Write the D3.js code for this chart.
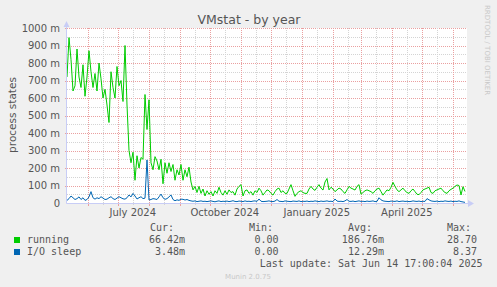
<!DOCTYPE html>
<html>
<head>
<meta charset="utf-8">
<script src="https://cdn.jsdelivr.net/npm/d3@7"></script>
<style>
  body { margin: 0; background: #f0f0f0; }
  svg { display: block; }
</style>
</head>
<body>
<svg id="chart"></svg>
<script>
var vWidth = 497,
  vHeight = 287,
  plotLeft = 67,
  plotRight = 467,
  plotTop = 28,
  plotBottom = 203;

// daily-ish samples, one every 2 days, values in milli
var running = [
  720, 945, 820, 640, 670, 880, 720, 660, 790, 610,
  720, 870, 750, 660, 740, 640, 800, 710, 600, 650,
  560, 460, 750, 660, 600, 780, 670, 700, 580, 900,
  560, 300, 230, 290, 130, 270, 200, 260, 250, 620,
  420, 590, 230, 190, 265, 240, 190, 250, 110, 230,
  170, 230, 180, 220, 130, 190, 160, 220, 130, 190,
  150, 205, 120, 75, 95, 60, 95, 55, 80, 40,
  70, 50, 65, 40, 70, 55, 90, 60, 45, 70,
  50, 75, 60, 65, 45, 80, 95, 105, 40, 70,
  75, 55, 65, 45, 70, 60, 85, 70, 45, 60,
  75, 70, 55, 45, 65, 80, 85, 60, 70, 55,
  55, 80, 105, 70, 38, 55, 65, 70, 60, 55,
  55, 80, 95, 80, 72, 90, 105, 85, 74, 120,
  140, 75, 90, 80, 65, 75, 85, 80, 65, 55,
  75, 95, 85, 80, 74, 95, 105, 50, 60, 70,
  75, 70, 65, 55, 70, 80, 85, 65, 45, 60,
  75, 70, 90, 118, 95, 75, 65, 75, 85, 70,
  60, 55, 70, 80, 65, 50, 48, 60, 75, 80,
  85, 90, 60, 55, 70, 75, 80, 85, 70, 60,
  55, 70, 78, 85, 95, 103, 100, 46, 93, 66
];
var ioSleep = [
  15, 25, 40, 30, 20, 25, 35, 20, 30, 15,
  20, 35, 65, 30, 22, 30, 25, 36, 28, 20,
  22, 30, 36, 25, 20, 28, 36, 30, 24, 22,
  30, 46, 35, 55, 40, 23, 30, 36, 25, 28,
  246, 17, 20, 25, 23, 20, 35, 51, 30, 21,
  25, 35, 46, 20, 13, 18, 15, 22, 21, 17,
  20, 15, 12, 10, 12, 8, 10, 12, 9, 10,
  8, 10, 12, 9, 7, 10, 12, 8, 10, 9,
  11, 8, 10, 13, 9, 8, 11, 10, 8, 12,
  9, 10, 8, 11, 12, 9, 23, 10, 8, 9,
  10, 12, 9, 8, 11, 20, 10, 9, 8, 12,
  10, 9, 8, 11, 10, 9, 12, 8, 10, 9,
  11, 8, 10, 9, 12, 10, 8, 11, 9, 10,
  12, 9, 10, 8, 23, 11, 9, 10, 8, 12,
  20, 10, 9, 11, 8, 10, 12, 9, 10, 8,
  11, 9, 10, 12, 8, 9, 30, 18, 12, 10,
  9, 8, 11, 10, 9, 12, 8, 10, 11, 9,
  10, 8, 9, 12, 10, 9, 11, 8, 10, 9,
  25, 18, 12, 10, 9, 11, 8, 10, 9, 12,
  10, 9, 11, 8, 10, 9, 12, 8, 6, 3.5
];

var seriesNames = ['running', 'I/O sleep'],
  seriesColors = ['#00cc00', '#0066b3'],
  curVals = ['66.42m', '3.48m'],
  minVals = ['0.00', '0.00'],
  avgVals = ['186.76m', '12.29m'],
  maxVals = ['28.70', '8.37'];

var yTicks = [0, 100, 200, 300, 400, 500, 600, 700, 800, 900, 1000],
  yTickLabels = ['0', '100 m', '200 m', '300 m', '400 m', '500 m', '600 m', '700 m', '800 m', '900 m', '1000 m'];

var xLabelDates = [Date.UTC(2024, 6, 1), Date.UTC(2024, 9, 1), Date.UTC(2025, 0, 1), Date.UTC(2025, 3, 1)],
  xLabels = ['July 2024', 'October 2024', 'January 2025', 'April 2025'];

var endTime = new Date(Date.UTC(2025, 5, 14, 17, 0, 4)),
  startTime = new Date(endTime.getTime() - 400 * 864e5);

var x = d3.scaleUtc().domain([startTime, endTime]).range([66.5, 466.5]);
var y = d3.scaleLinear().domain([0, 1000]).range([plotBottom, plotTop]);

function px(v) { return Math.round(v) + 0.5; }

var svg = d3.select('#chart')
  .attr('width', vWidth)
  .attr('height', vHeight);

svg.append('rect')
  .attr('width', vWidth).attr('height', vHeight)
  .attr('fill', '#f0f0f0');

// plot area
svg.append('rect')
  .attr('x', plotLeft).attr('y', plotTop)
  .attr('width', plotRight - plotLeft).attr('height', plotBottom - plotTop)
  .attr('fill', '#ffffff');

var grid = svg.append('g').attr('shape-rendering', 'crispEdges');

// horizontal minor + major lines
d3.range(50, 1001, 100).forEach(function (v) {
  grid.append('line')
    .attr('x1', plotLeft).attr('x2', plotRight)
    .attr('y1', px(y(v))).attr('y2', px(y(v)))
    .attr('stroke', '#d4d4d4').attr('stroke-dasharray', '1,1');
});
yTicks.forEach(function (v) {
  if (v === 0) return;
  grid.append('line')
    .attr('x1', plotLeft).attr('x2', plotRight)
    .attr('y1', px(y(v))).attr('y2', px(y(v)))
    .attr('stroke', '#eaa0a0').attr('stroke-dasharray', '1,1');
  grid.append('line')
    .attr('x1', plotLeft - 2).attr('x2', plotLeft)
    .attr('y1', px(y(v))).attr('y2', px(y(v)))
    .attr('stroke', '#eaa0a0');
});

// vertical: month starts (major) and mid-month (minor)
var months = d3.utcMonth.range(startTime, endTime);
months.forEach(function (m) {
  var mid = d3.utcDay.offset(m, 15);
  if (mid < endTime) {
    grid.append('line')
      .attr('x1', px(x(mid))).attr('x2', px(x(mid)))
      .attr('y1', plotTop).attr('y2', plotBottom + 2)
      .attr('stroke', '#d4d4d4').attr('stroke-dasharray', '1,1');
  }
});
d3.utcMonth.range(d3.utcMonth.ceil(startTime), endTime).forEach(function (m) {
  grid.append('line')
    .attr('x1', px(x(m))).attr('x2', px(x(m)))
    .attr('y1', plotTop).attr('y2', plotBottom)
    .attr('stroke', '#eaa0a0').attr('stroke-dasharray', '1,1');
  grid.append('line')
    .attr('x1', px(x(m))).attr('x2', px(x(m)))
    .attr('y1', plotBottom).attr('y2', plotBottom + 3)
    .attr('stroke', '#eaa0a0');
});

// series lines
function dateAt(i) { return d3.utcHour.offset(startTime, 12 + 48 * i); }

var line = d3.line()
  .x(function (d, i) { return x(dateAt(i)); })
  .y(function (d) { return y(d); });

[running, ioSleep].forEach(function (s, k) {
  svg.append('path')
    .datum(s)
    .attr('d', line)
    .attr('fill', 'none')
    .attr('stroke', seriesColors[k])
    .attr('stroke-width', 1);
});

// axes with arrows
var axisColor = '#c8cdf6';
svg.append('line')
  .attr('x1', plotLeft - 0.5).attr('x2', plotLeft - 0.5)
  .attr('y1', plotBottom + 0.5).attr('y2', plotTop - 4)
  .attr('stroke', axisColor);
svg.append('line')
  .attr('x1', plotLeft - 0.5).attr('x2', plotRight + 2)
  .attr('y1', plotBottom + 0.5).attr('y2', plotBottom + 0.5)
  .attr('stroke', axisColor);
svg.append('path')
  .attr('d', 'M63.5,27 L66.5,21 L69.5,27 Z')
  .attr('fill', axisColor);
svg.append('path')
  .attr('d', 'M468,200 L474,203.5 L468,207 Z')
  .attr('fill', axisColor);

// y tick labels
svg.append('g').selectAll('text')
  .data(yTicks)
  .enter().append('text')
  .attr('x', 60)
  .attr('y', function (d) { return y(d) + 3.6; })
  .attr('text-anchor', 'end')
  .attr('font-family', 'DejaVu Sans')
  .attr('font-size', '10px')
  .attr('fill', '#555')
  .text(function (d, i) { return yTickLabels[i]; });

// x labels, centred half a month after the month start
svg.append('g').selectAll('text')
  .data(xLabelDates)
  .enter().append('text')
  .attr('x', function (d) { return x(d3.utcDay.offset(new Date(d), 15)); })
  .attr('y', 216)
  .attr('text-anchor', 'middle')
  .attr('font-family', 'DejaVu Sans')
  .attr('font-size', '10px')
  .attr('fill', '#555')
  .text(function (d, i) { return xLabels[i]; });

// title and axis title
svg.append('text')
  .attr('x', 249).attr('y', 24)
  .attr('text-anchor', 'middle')
  .attr('font-family', 'DejaVu Sans')
  .attr('font-size', '12.5px')
  .attr('fill', '#555')
  .text('VMstat - by year');

svg.append('text')
  .attr('transform', 'translate(15.5,115)rotate(-90)')
  .attr('text-anchor', 'middle')
  .attr('font-family', 'DejaVu Sans')
  .attr('font-size', '10.5px')
  .attr('fill', '#555')
  .text('process states');

svg.append('text')
  .attr('transform', 'translate(485,5)rotate(90)')
  .attr('font-family', 'DejaVu Sans')
  .attr('font-size', '7px')
  .attr('fill', '#c8c8c8')
  .text('RRDTOOL / TOBI OETIKER');

// legend
var mono = 'DejaVu Sans Mono';
var legend = svg.append('g')
  .attr('font-family', mono)
  .attr('font-size', '10px')
  .attr('fill', '#555');

[['Cur:', 150], ['Min:', 249], ['Avg:', 348], ['Max:', 447]].forEach(function (h) {
  legend.append('text').attr('x', h[1]).attr('y', 231).text(h[0]);
});

seriesNames.forEach(function (name, i) {
  var ly = 243 + i * 12;
  legend.append('rect')
    .attr('x', 14).attr('y', ly - 6)
    .attr('width', 6).attr('height', 6)
    .attr('fill', seriesColors[i]);
  legend.append('text').attr('x', 27).attr('y', ly).text(name);
  legend.append('text').attr('x', 185).attr('y', ly).attr('text-anchor', 'end').text(curVals[i]);
  legend.append('text').attr('x', 278.5).attr('y', ly).attr('text-anchor', 'end').text(minVals[i]);
  legend.append('text').attr('x', 384).attr('y', ly).attr('text-anchor', 'end').text(avgVals[i]);
  legend.append('text').attr('x', 477).attr('y', ly).attr('text-anchor', 'end').text(maxVals[i]);
});

legend.append('text')
  .attr('x', 482.5).attr('y', 267)
  .attr('text-anchor', 'end')
  .text('Last update: Sat Jun 14 17:00:04 2025');

svg.append('text')
  .attr('x', 248).attr('y', 279)
  .attr('text-anchor', 'middle')
  .attr('font-family', 'DejaVu Sans')
  .attr('font-size', '7px')
  .attr('fill', '#c8c8c8')
  .text('Munin 2.0.75');
</script>
</body>
</html>
